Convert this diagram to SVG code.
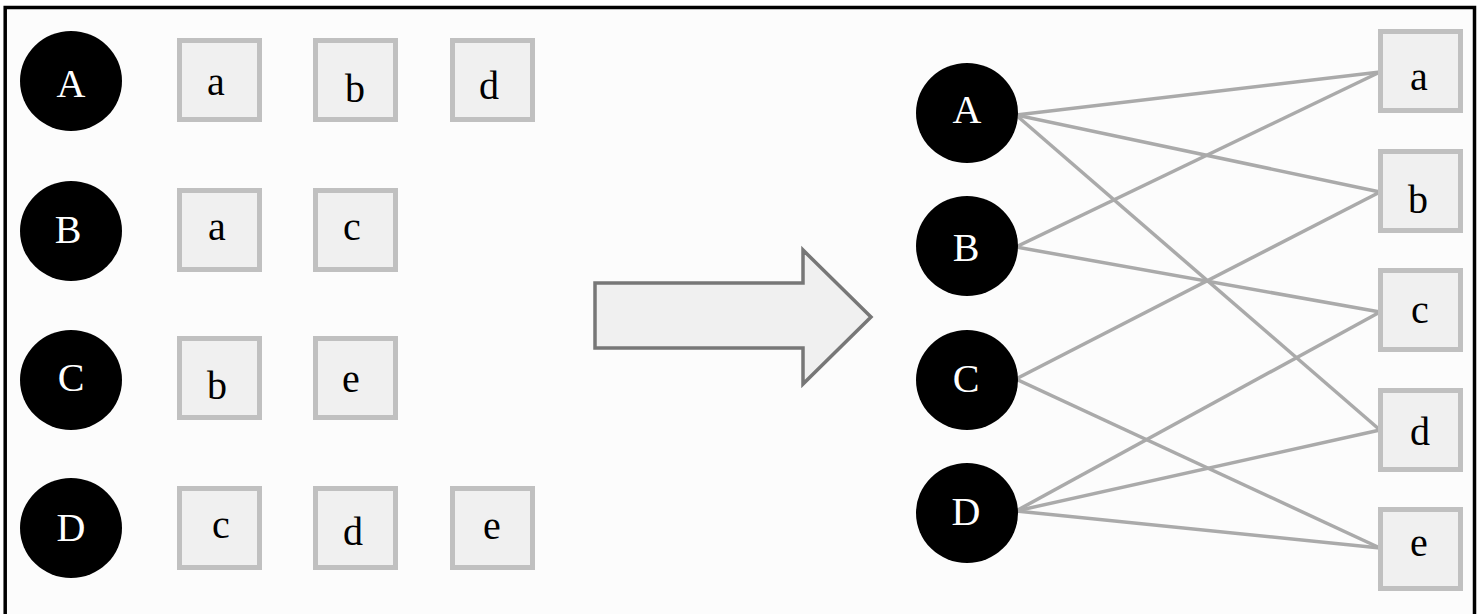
<svg xmlns="http://www.w3.org/2000/svg" width="1478" height="614" viewBox="0 0 1478 614">
<style>
.frame{fill:#fcfcfc;stroke:#000;stroke-width:3.5}
.dot{fill:#000}
.dt{fill:#fff;font-family:"Liberation Serif","Times New Roman",serif;font-size:40px;text-anchor:middle}
.box{fill:#f0f0f0;stroke:#c0c0c0;stroke-width:5}
.bt{fill:#000;font-family:"Liberation Serif","Times New Roman",serif;font-size:40px;text-anchor:middle}
.edge{stroke:#aaaaaa;stroke-width:3.5;fill:none}
.arrow{fill:#f0f0f0;stroke:#777;stroke-width:3.5;stroke-linejoin:miter}
</style>
<rect x="0" y="0" width="1478" height="614" fill="#fff"/>
<path class="frame" d="M5.2,616 V7.5 H1474.5 V616"/>
<g id="left">
<g id="L-A"><ellipse class="dot" cx="71" cy="81" rx="51" ry="50"/><text class="dt" x="71" y="97">A</text></g>
<g id="L-A-a"><rect class="box" x="179.5" y="40.5" width="80" height="79"/><text class="bt" x="216" y="95">a</text></g>
<g id="L-A-b"><rect class="box" x="315.5" y="40.5" width="80" height="79"/><text class="bt" x="355" y="102">b</text></g>
<g id="L-A-d"><rect class="box" x="452.5" y="40.5" width="80" height="79"/><text class="bt" x="489" y="99">d</text></g>
<g id="L-B"><ellipse class="dot" cx="71" cy="231" rx="51" ry="50"/><text class="dt" x="68" y="243">B</text></g>
<g id="L-B-a"><rect class="box" x="179.5" y="190.5" width="80" height="79"/><text class="bt" x="217" y="240">a</text></g>
<g id="L-B-c"><rect class="box" x="315.5" y="190.5" width="80" height="79"/><text class="bt" x="352" y="240">c</text></g>
<g id="L-C"><ellipse class="dot" cx="71" cy="380" rx="51" ry="50"/><text class="dt" x="71" y="391">C</text></g>
<g id="L-C-b"><rect class="box" x="179.5" y="338.5" width="80" height="79"/><text class="bt" x="217" y="399">b</text></g>
<g id="L-C-e"><rect class="box" x="315.5" y="338.5" width="80" height="79"/><text class="bt" x="351" y="392">e</text></g>
<g id="L-D"><ellipse class="dot" cx="71" cy="528" rx="51" ry="50"/><text class="dt" x="71" y="541">D</text></g>
<g id="L-D-c"><rect class="box" x="179.5" y="488.5" width="80" height="79"/><text class="bt" x="221" y="538">c</text></g>
<g id="L-D-d"><rect class="box" x="315.5" y="488.5" width="80" height="79"/><text class="bt" x="353" y="545">d</text></g>
<g id="L-D-e"><rect class="box" x="452.5" y="488.5" width="80" height="79"/><text class="bt" x="492" y="539">e</text></g>
</g>
<g id="big-arrow"><polygon class="arrow" points="595,283 803,283 803,250 871,317 803,384 803,348 595,348"/></g>
<g id="connectors">
<line class="edge" x1="1016" y1="115" x2="1380" y2="72"/>
<line class="edge" x1="1016" y1="115" x2="1380" y2="192"/>
<line class="edge" x1="1016" y1="115" x2="1380" y2="430"/>
<line class="edge" x1="1016" y1="247" x2="1380" y2="72"/>
<line class="edge" x1="1016" y1="247" x2="1380" y2="312"/>
<line class="edge" x1="1016" y1="379" x2="1380" y2="192"/>
<line class="edge" x1="1016" y1="379" x2="1380" y2="548"/>
<line class="edge" x1="1016" y1="511" x2="1380" y2="312"/>
<line class="edge" x1="1016" y1="511" x2="1380" y2="430"/>
<line class="edge" x1="1016" y1="511" x2="1380" y2="548"/>
</g>
<g id="right">
<g id="R-A"><ellipse class="dot" cx="967" cy="113" rx="51" ry="50"/><text class="dt" x="967" y="123">A</text></g>
<g id="R-B"><ellipse class="dot" cx="967" cy="246" rx="51" ry="50"/><text class="dt" x="966" y="261">B</text></g>
<g id="R-C"><ellipse class="dot" cx="967" cy="380" rx="51" ry="50"/><text class="dt" x="966" y="392">C</text></g>
<g id="R-D"><ellipse class="dot" cx="967" cy="513" rx="51" ry="50"/><text class="dt" x="966" y="525">D</text></g>
<g id="R-a"><rect class="box" x="1380.5" y="31.5" width="80" height="79"/><text class="bt" x="1419" y="90">a</text></g>
<g id="R-b"><rect class="box" x="1380.5" y="151.5" width="80" height="79"/><text class="bt" x="1418" y="213">b</text></g>
<g id="R-c"><rect class="box" x="1380.5" y="270.5" width="80" height="79"/><text class="bt" x="1420" y="323">c</text></g>
<g id="R-d"><rect class="box" x="1380.5" y="390.5" width="80" height="79"/><text class="bt" x="1420" y="445">d</text></g>
<g id="R-e"><rect class="box" x="1380.5" y="509.5" width="80" height="79"/><text class="bt" x="1419" y="556">e</text></g>
</g>
</svg>
